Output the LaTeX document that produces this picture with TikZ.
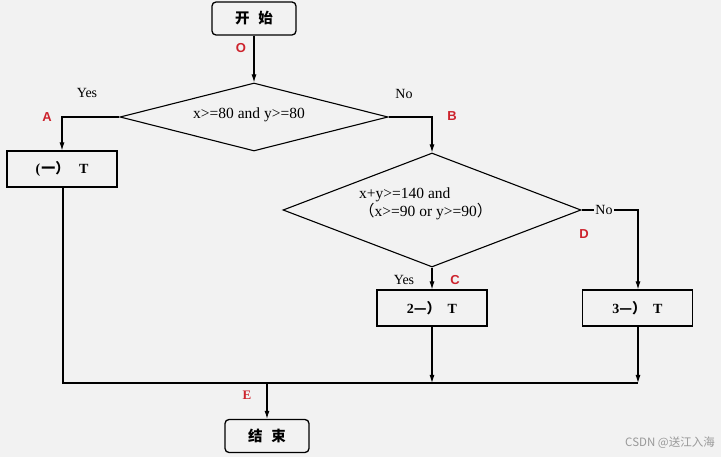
\documentclass[tikz,border=0pt]{standalone}
\usepackage{fontspec}
\setmainfont{Liberation Serif}
\newfontfamily\cjk{Noto Sans CJK SC}
\newfontfamily\lab{Liberation Sans}
\usetikzlibrary{shapes.geometric,arrows.meta}
\definecolor{bg}{RGB}{242,242,242}
\definecolor{lred}{RGB}{205,35,45}
\tikzset{
  x=1pt, y=-1pt,
  line/.style={line width=1.1pt, black},
  arr/.style={line, -{Latex[length=8pt,width=5pt]}},
  term/.style={draw, line width=1.3pt, rounded corners=4pt, minimum width=84pt, minimum height=33pt, inner sep=0pt, font=\cjk\bfseries\fontsize{14.5}{16}\selectfont},
  proc/.style={draw, line width=1.1pt, minimum width=110pt, minimum height=36pt, inner sep=0pt, font=\fontsize{14}{16}\selectfont\bfseries},
  dec/.style={draw, diamond, line width=1.1pt, inner sep=0pt},
  txt/.style={inner sep=0pt, font=\fontsize{15.5}{18}\selectfont},
  yn/.style={inner sep=0pt, font=\fontsize{14}{16}\selectfont},
  red/.style={inner sep=0pt, text=lred, font=\lab\bfseries\fontsize{13}{15}\selectfont},
}
\begin{document}
\begin{tikzpicture}
\fill[bg] (0,0) rectangle (721,457);
\useasboundingbox (0,0) rectangle (721,457);

\node[term] (start) at (254,18.5) {开\hspace{0.6em}始};
\node[dec, shape aspect=4, minimum width=268pt, minimum height=68pt] (d1) at (254,117) {};
\node[txt] (d1t) at (249,115) {x>=80 and y>=80};
\node[proc] (p1) at (62,169) {(\kern1pt{\cjk 一）}\hspace{0.7em}T};
\node[dec, shape aspect=2.6, minimum width=298pt, minimum height=114pt] (d2) at (432,210) {};
\node[txt, align=left, anchor=west] (d2t) at (359,204) {x+y>=140 and\\{\cjk （}x>=90 or y>=90{\cjk ）}};
\node[proc] (p2) at (432,308) {2{\cjk —）}\hspace{0.5em}T};
\node[proc] (p3) at (637.5,308) {3{\cjk —）}\hspace{0.5em}T};
\node[term] (end) at (267,436) {结\hspace{0.6em}束};

\coordinate (m) at (267,383);
\coordinate (mr) at (638,383);

\draw[arr] (start) -- (d1);
\draw[arr] (d1.west) -| (p1);
\draw[arr] (d1.east) -| (d2);
\draw[arr] (d2.south) -- (p2);
\draw[arr] (d2.east) -| (p3.north -| mr);
\draw[line] (p1.south -| 63,0) |- (mr);
\draw[arr] (p2) -- (p2 |- mr);
\draw[arr] (p3.south -| mr) -- (mr);
\draw[arr] (m) -- (end);

\node[yn] (yes1) at (87,93) {Yes};
\node[yn] (no1) at (404,94) {No};
\node[yn, fill=bg, inner sep=1pt] (no2) at (604,210) {No};
\node[yn] (yes2) at (404,280) {Yes};
\node[red] (lO) at (241,48) {O};
\node[red] (lA) at (47,117) {A};
\node[red] (lB) at (452,116) {B};
\node[red] (lC) at (455,280) {C};
\node[red] (lD) at (584,234) {D};
\node[red, font=\bfseries\fontsize{13}{15}\selectfont] (lE) at (247,395) {E};
\node[inner sep=0pt, text=black!40, font=\cjk\fontsize{11.5}{13}\selectfont, anchor=east] (wm) at (715,443) {CSDN @送江入海};
\end{tikzpicture}
\end{document}
